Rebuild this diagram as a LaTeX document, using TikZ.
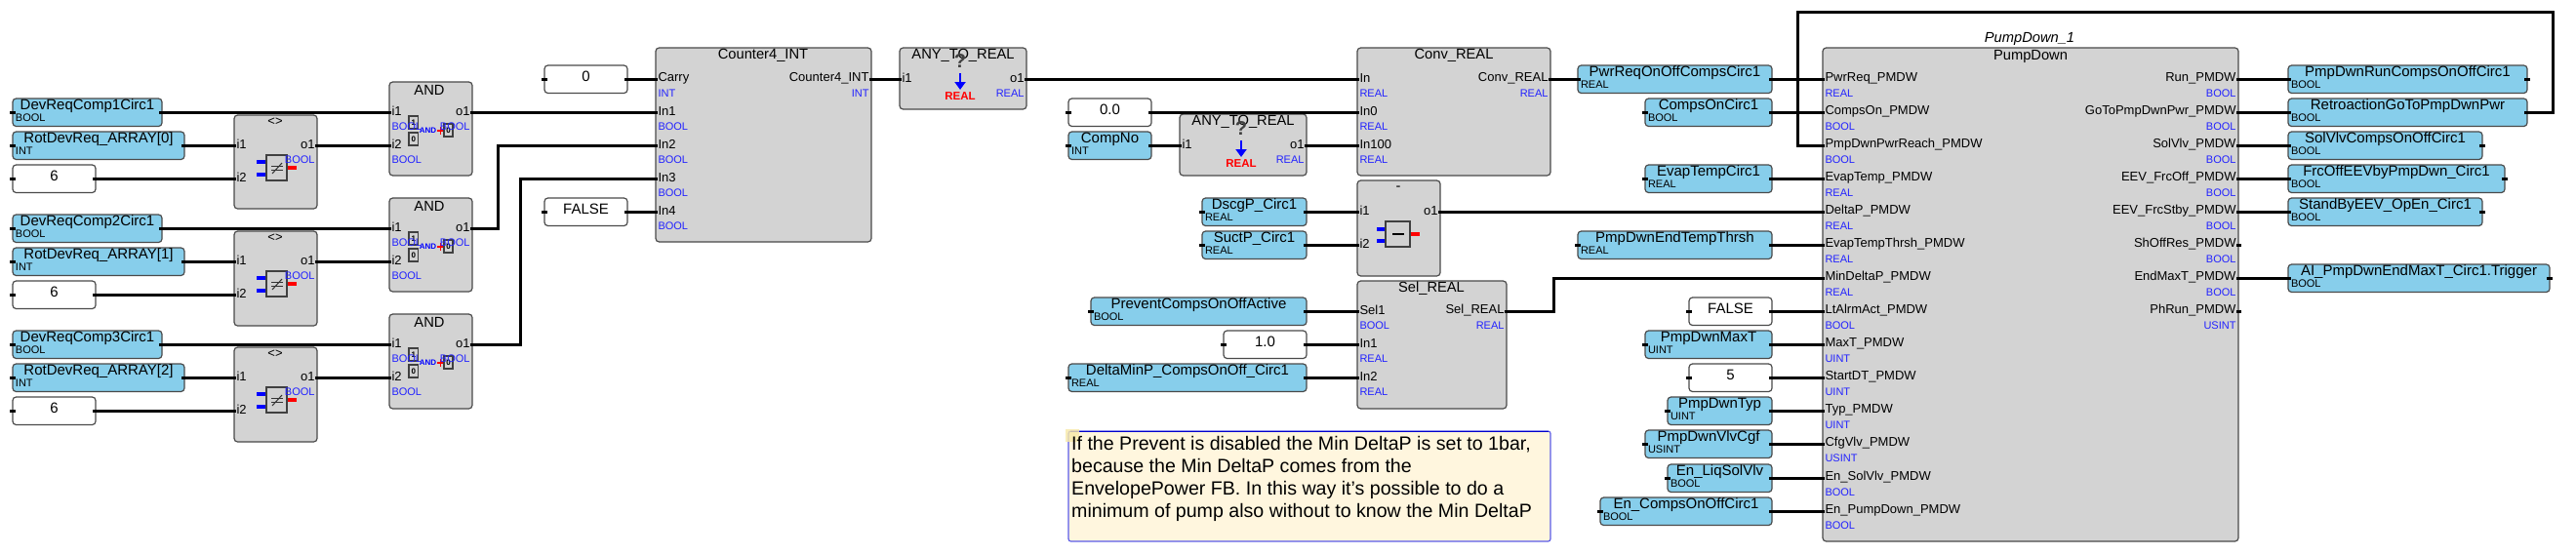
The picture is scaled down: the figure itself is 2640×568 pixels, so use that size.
\documentclass[tikz,border=0pt]{standalone}
\usepackage{fontspec}
\setmainfont{Liberation Sans}
\usetikzlibrary{arrows.meta}
\definecolor{varfill}{HTML}{87CEEB}
\definecolor{blockfill}{HTML}{D3D3D3}
\definecolor{edgegray}{HTML}{4A4A4A}
\definecolor{typeblue}{HTML}{2222FF}
\definecolor{notefill}{HTML}{FFF6DE}
\definecolor{noteedge}{HTML}{5C5CE8}
\definecolor{tagyellow}{HTML}{F7E9A8}
\newcommand{\fs}[1]{\fontsize{#1}{#1}\selectfont}
\tikzset{
  boxbase/.style={draw=edgegray,line width=1.2pt,rounded corners=3.5pt},
  wire/.style={draw=black,line width=3pt},
  stub/.style={draw=black,line width=3pt},
  lbl/.style={inner sep=0pt,outer sep=0pt,text=black,font=\fs{15}},
  typelbl/.style={inner sep=0pt,outer sep=0pt,text=black,font=\fs{11}},
  pintxt/.style={inner sep=0pt,outer sep=0pt,text=black,font=\fs{13}},
  pintype/.style={inner sep=0pt,outer sep=0pt,text=typeblue,font=\fs{11}},
  ttl/.style={inner sep=0pt,outer sep=0pt,text=black,font=\fs{14.7}},
  iconbox/.style={draw=black!75,fill=black!18,line width=1.2pt},
}
% \varbox{name}{x0}{x1}{wire y}{text}{type}
\newcommand{\varbox}[6]{%
  \fill[boxbase,fill=varfill] (#2,#4-14) rectangle (#3,#4+14.5);
  \coordinate (#1-l) at (#2,#4);
  \coordinate (#1-r) at (#3,#4);
  \node[lbl] at ({(#2+#3)/2},#4-6.5) {#5};
  \node[typelbl,anchor=west] at (#2+3,#4+5.5) {#6};
  \draw[stub] (#2-3,#4) -- (#2+3,#4);
  \draw[stub] (#3-3,#4) -- (#3+3,#4);
}
\newcommand{\constbox}[5]{%
  \fill[boxbase,fill=white] (#2,#4-14) rectangle (#3,#4+14.5);
  \coordinate (#1-l) at (#2,#4);
  \coordinate (#1-r) at (#3,#4);
  \node[lbl] at ({(#2+#3)/2},#4-2.5) {#5};
  \draw[stub] (#2-3,#4) -- (#2+3,#4);
  \draw[stub] (#3-3,#4) -- (#3+3,#4);
}
\newcommand{\blockbox}[5]{% name x0 y0 x1 y1
  \fill[boxbase,fill=blockfill] (#2,#3) rectangle (#4,#5);
  \coordinate (#1-w) at (#2,#3);
  \coordinate (#1-e) at (#4,#3);
}
\newcommand{\pinin}[5]{%
  \coordinate (#1) at (#2,#3);
  \node[pintxt,anchor=west] at (#2+2.5,#3-1) {#4};
  \node[pintype,anchor=west] at (#2+2.5,#3+15) {#5};
  \draw[stub] (#2-3,#3) -- (#2+2,#3);
}
\newcommand{\pinout}[5]{%
  \coordinate (#1) at (#2,#3);
  \node[pintxt,anchor=east] at (#2-2.5,#3-1) {#4};
  \node[pintype,anchor=east] at (#2-2.5,#3+15) {#5};
  \draw[stub] (#2-2,#3) -- (#2+3,#3);
}
\newcommand{\neicon}[2]{% square left x, top y
  \draw[blue,line width=3.6pt] (#1-10,#2+7) -- (#1,#2+7);
  \draw[blue,line width=3.6pt] (#1-10,#2+20) -- (#1,#2+20);
  \draw[red,line width=3.6pt] (#1+21,#2+13) -- (#1+31,#2+13);
  \fill[iconbox] (#1,#2) rectangle (#1+21,#2+26);
  \draw[black!80,line width=1pt] (#1+5,#2+11.5) -- (#1+17,#2+11.5);
  \draw[black!80,line width=1pt] (#1+5,#2+15.5) -- (#1+17,#2+15.5);
  \draw[black!80,line width=1pt] (#1+6,#2+19) -- (#1+16,#2+8);
}
\newcommand{\andicon}[2]{% x of left box, y of top
  \fill[iconbox] (#1,#2) rectangle (#1+9.5,#2+13);
  \fill[iconbox] (#1,#2+17) rectangle (#1+9.5,#2+30);
  \node[inner sep=0pt,font=\fs{8}\bfseries] at (#1+4.8,#2+6.5) {1};
  \node[inner sep=0pt,font=\fs{8}\bfseries] at (#1+4.8,#2+23.5) {0};
  \node[inner sep=0pt,text=blue,font=\fs{8}\bfseries] at (#1+19.5,#2+15) {AND};
  \draw[red,line width=2pt] (#1+29,#2+15) -- (#1+36,#2+15);
  \draw[red,line width=1.5pt] (#1+32.5,#2+11) -- (#1+32.5,#2+19);
  \fill[iconbox] (#1+36,#2+8) rectangle (#1+45,#2+21);
  \node[inner sep=0pt,font=\fs{8}\bfseries] at (#1+40.5,#2+14.5) {0};
}
\newcommand{\convicon}[2]{% center x, y of ?
  \node[inner sep=0pt,text=black!75,font=\fs{20}\bfseries] at (#1,#2) {?};
  \draw[blue,line width=2pt,-{Triangle[length=8pt,width=11pt]}] (#1,#2+12) -- (#1,#2+29);
  \node[inner sep=0pt,text=red,font=\fs{11.5}\bfseries] at (#1,#2+36) {REAL};
}
\begin{document}
\begin{tikzpicture}[x=1pt,y=-1pt]
\useasboundingbox (0,0) rectangle (2640,568);
\fill[white] (0,0) rectangle (2640,568);

%%%% variables and constants, left group
\varbox{d1}{13}{166}{115}{DevReqComp1Circ1}{BOOL}
\varbox{r1}{13}{189}{149}{RotDevReq\_ARRAY[0]}{INT}
\constbox{c1}{13}{98}{183}{6}
\varbox{d2}{13}{166}{234}{DevReqComp2Circ1}{BOOL}
\varbox{r2}{13}{189}{268}{RotDevReq\_ARRAY[1]}{INT}
\constbox{c2}{13}{98}{302}{6}
\varbox{d3}{13}{166}{353}{DevReqComp3Circ1}{BOOL}
\varbox{r3}{13}{189}{387}{RotDevReq\_ARRAY[2]}{INT}
\constbox{c3}{13}{98}{421}{6}

%%%% <> blocks
\blockbox{ne1}{240}{118}{325}{214}
\blockbox{ne2}{240}{237}{325}{334}
\blockbox{ne3}{240}{356}{325}{453}
\foreach \t/\n in {118/1,237/2,356/3}{
  \node[ttl,font=\fs{13}] at (282,\t+7) {<>};
  \neicon{273}{\t+41}
}
\pinin{ne1i1}{240}{149}{i1}{}
\pinin{ne1i2}{240}{183}{i2}{}
\pinout{ne1o}{325}{149}{o1}{BOOL}
\pinin{ne2i1}{240}{268}{i1}{}
\pinin{ne2i2}{240}{302}{i2}{}
\pinout{ne2o}{325}{268}{o1}{BOOL}
\pinin{ne3i1}{240}{387}{i1}{}
\pinin{ne3i2}{240}{421}{i2}{}
\pinout{ne3o}{325}{387}{o1}{BOOL}

%%%% AND blocks
\blockbox{an1}{399}{84}{484}{180}
\blockbox{an2}{399}{203}{484}{299}
\blockbox{an3}{399}{322}{484}{419}
\foreach \t in {84,203,322}{
  \node[ttl] at (440,\t+8) {AND};
  \andicon{419}{\t+35}
}
\pinin{an1i1}{399}{115}{i1}{BOOL}
\pinin{an1i2}{399}{149}{i2}{BOOL}
\pinout{an1o}{484}{115}{o1}{BOOL}
\pinin{an2i1}{399}{234}{i1}{BOOL}
\pinin{an2i2}{399}{268}{i2}{BOOL}
\pinout{an2o}{484}{234}{o1}{BOOL}
\pinin{an3i1}{399}{353}{i1}{BOOL}
\pinin{an3i2}{399}{387}{i2}{BOOL}
\pinout{an3o}{484}{353}{o1}{BOOL}

%%%% Counter
\blockbox{cn}{672}{49}{893}{248}
\node[ttl] at (782,57) {Counter4\_INT};
\constbox{c0}{558}{643}{81}{0}
\constbox{cf}{558}{643}{217}{FALSE}
\pinin{cnc}{672}{81}{Carry}{INT}
\pinin{cn1}{672}{115}{In1}{BOOL}
\pinin{cn2}{672}{149}{In2}{BOOL}
\pinin{cn3}{672}{183}{In3}{BOOL}
\pinin{cn4}{672}{217}{In4}{BOOL}
\pinout{cno}{893}{81}{Counter4\_INT}{INT}

%%%% ANY_TO_REAL 1
\blockbox{at1}{922}{49}{1052}{112}
\node[ttl] at (987,57) {ANY\_TO\_REAL};
\convicon{984}{63}
\pinin{at1i}{922}{81}{i1}{}
\pinout{at1o}{1052}{81}{o1}{REAL}

%%%% Conv_REAL
\blockbox{cv}{1391}{49}{1589}{180}
\node[ttl] at (1490,57) {Conv\_REAL};
\constbox{c00}{1095}{1180}{115}{0.0}
\varbox{cno2}{1095}{1180}{149}{CompNo}{INT}
\blockbox{at2}{1209}{117}{1339}{180}
\node[ttl] at (1274,125) {ANY\_TO\_REAL};
\convicon{1272}{132}
\pinin{at2i}{1209}{149}{i1}{}
\pinout{at2o}{1339}{149}{o1}{REAL}
\pinin{cvi}{1391}{81}{In}{REAL}
\pinin{cvi0}{1391}{115}{In0}{REAL}
\pinin{cvi1}{1391}{149}{In100}{REAL}
\pinout{cvo}{1589}{81}{Conv\_REAL}{REAL}

%%%% minus block
\varbox{ds}{1232}{1339}{217}{DscgP\_Circ1}{REAL}
\varbox{su}{1232}{1339}{251}{SuctP\_Circ1}{REAL}
\blockbox{mn}{1391}{185}{1476}{283}
\node[ttl] at (1433,193) {-};
\pinin{mni1}{1391}{217}{i1}{}
\pinin{mni2}{1391}{251}{i2}{}
\pinout{mno}{1476}{217}{o1}{}
\draw[blue,line width=3.6pt] (1411,235) -- (1420,235);
\draw[blue,line width=3.6pt] (1411,247) -- (1420,247);
\draw[red,line width=3.6pt] (1445,240) -- (1455,240);
\fill[iconbox] (1420,227) rectangle (1445,253);
\draw[black,line width=2.2pt] (1427,240) -- (1439,240);

%%%% Sel_REAL
\blockbox{sl}{1391}{288}{1544}{419}
\node[ttl] at (1467,296) {Sel\_REAL};
\varbox{pv}{1118}{1339}{319}{PreventCompsOnOffActive}{BOOL}
\constbox{c10}{1254}{1339}{353}{1.0}
\varbox{dm}{1095}{1339}{387}{DeltaMinP\_CompsOnOff\_Circ1}{REAL}
\pinin{sls}{1391}{319}{Sel1}{BOOL}
\pinin{sl1}{1391}{353}{In1}{REAL}
\pinin{sl2}{1391}{387}{In2}{REAL}
\pinout{slo}{1544}{319}{Sel\_REAL}{REAL}

%%%% Note
\path[fill=notefill,draw=noteedge,line width=1.2pt,rounded corners=2.5pt] (1095,442) rectangle (1589,555);
\draw[draw=blue!80!black,line width=1pt] (1097,442) -- (1587,442);
\fill[tagyellow,opacity=.8] (1092,440) rectangle (1106,453);
\node[inner sep=0pt,anchor=north west,align=left,font=\fontsize{19.6}{23}\selectfont] (note) at (1098,447) {If the Prevent is disabled the Min DeltaP is set to 1bar,\\because the Min DeltaP comes from the\\EnvelopePower FB. In this way it's possible to do a\\minimum of pump also without to know the Min DeltaP};

%%%% PumpDown
\blockbox{pd}{1868}{49}{2294}{555}
\node[ttl,font=\fs{14.7}\itshape] at (2080,40) {PumpDown\_1};
\node[ttl] at (2081,58) {PumpDown};
\pinin{pi1}{1868}{81}{PwrReq\_PMDW}{REAL}
\pinin{pi2}{1868}{115}{CompsOn\_PMDW}{BOOL}
\pinin{pi3}{1868}{149}{PmpDwnPwrReach\_PMDW}{BOOL}
\pinin{pi4}{1868}{183}{EvapTemp\_PMDW}{REAL}
\pinin{pi5}{1868}{217}{DeltaP\_PMDW}{REAL}
\pinin{pi6}{1868}{251}{EvapTempThrsh\_PMDW}{REAL}
\pinin{pi7}{1868}{285}{MinDeltaP\_PMDW}{REAL}
\pinin{pi8}{1868}{319}{LtAlrmAct\_PMDW}{BOOL}
\pinin{pi9}{1868}{353}{MaxT\_PMDW}{UINT}
\pinin{pi10}{1868}{387}{StartDT\_PMDW}{UINT}
\pinin{pi11}{1868}{421}{Typ\_PMDW}{UINT}
\pinin{pi12}{1868}{455}{CfgVlv\_PMDW}{USINT}
\pinin{pi13}{1868}{490}{En\_SolVlv\_PMDW}{BOOL}
\pinin{pi14}{1868}{524}{En\_PumpDown\_PMDW}{BOOL}
\pinout{po1}{2294}{81}{Run\_PMDW}{BOOL}
\pinout{po2}{2294}{115}{GoToPmpDwnPwr\_PMDW}{BOOL}
\pinout{po3}{2294}{149}{SolVlv\_PMDW}{BOOL}
\pinout{po4}{2294}{183}{EEV\_FrcOff\_PMDW}{BOOL}
\pinout{po5}{2294}{217}{EEV\_FrcStby\_PMDW}{BOOL}
\pinout{po6}{2294}{251}{ShOffRes\_PMDW}{BOOL}
\pinout{po7}{2294}{285}{EndMaxT\_PMDW}{BOOL}
\pinout{po8}{2294}{319}{PhRun\_PMDW}{USINT}

%%%% PumpDown left variables
\varbox{v1}{1617}{1816}{81}{PwrReqOnOffCompsCirc1}{REAL}
\varbox{v2}{1686}{1816}{115}{CompsOnCirc1}{BOOL}
\varbox{v4}{1686}{1816}{183}{EvapTempCirc1}{REAL}
\varbox{v6}{1617}{1816}{251}{PmpDwnEndTempThrsh}{REAL}
\constbox{v8}{1731}{1816}{319}{FALSE}
\varbox{v9}{1686}{1816}{353}{PmpDwnMaxT}{UINT}
\constbox{v10}{1731}{1816}{387}{5}
\varbox{v11}{1709}{1816}{421}{PmpDwnTyp}{UINT}
\varbox{v12}{1686}{1816}{455}{PmpDwnVlvCgf}{USINT}
\varbox{v13}{1709}{1816}{490}{En\_LiqSolVlv}{BOOL}
\varbox{v14}{1640}{1816}{524}{En\_CompsOnOffCirc1}{BOOL}

%%%% PumpDown right variables
\varbox{o1}{2345}{2590}{81}{PmpDwnRunCompsOnOffCirc1}{BOOL}
\varbox{o2}{2345}{2590}{115}{RetroactionGoToPmpDwnPwr}{BOOL}
\varbox{o3}{2345}{2544}{149}{SolVlvCompsOnOffCirc1}{BOOL}
\varbox{o4}{2345}{2567}{183}{FrcOffEEVbyPmpDwn\_Circ1}{BOOL}
\varbox{o5}{2345}{2544}{217}{StandByEEV\_OpEn\_Circ1}{BOOL}
\varbox{o7}{2345}{2613}{285}{AI\_PmpDwnEndMaxT\_Circ1.Trigger}{BOOL}

%%%% connectors
\begin{scope}[every path/.style={wire}]
\draw (d1-r) -- (an1i1);
\draw (r1-r) -- (ne1i1);
\draw (c1-r) -- (ne1i2);
\draw (ne1o) -- (an1i2);
\draw (d2-r) -- (an2i1);
\draw (r2-r) -- (ne2i1);
\draw (c2-r) -- (ne2i2);
\draw (ne2o) -- (an2i2);
\draw (d3-r) -- (an3i1);
\draw (r3-r) -- (ne3i1);
\draw (c3-r) -- (ne3i2);
\draw (ne3o) -- (an3i2);
\draw (an1o) -- (cn1);
\coordinate (k2) at (510,234);
\draw[line join=miter] (an2o) -- (k2) |- (cn2);
\coordinate (k3) at (533,353);
\draw[line join=miter] (an3o) -- (k3) |- (cn3);
\draw (c0-r) -- (cnc);
\draw (cf-r) -- (cn4);
\draw (cno) -- (at1i);
\draw (at1o) -- (cvi);
\draw (c00-r) -- (cvi0);
\draw (cno2-r) -- (at2i);
\draw (at2o) -- (cvi1);
\draw (cvo) -- (v1-l);
\draw (ds-r) -- (mni1);
\draw (su-r) -- (mni2);
\draw (pv-r) -- (sls);
\draw (c10-r) -- (sl1);
\draw (dm-r) -- (sl2);
\draw (mno) -- (pi5);
\coordinate (k7) at (1592,319);
\draw[line join=miter] (slo) -- (k7) |- (pi7);
\draw (v1-r) -- (pi1);
\draw (v2-r) -- (pi2);
\draw (v4-r) -- (pi4);
\draw (v6-r) -- (pi6);
\draw (v8-r) -- (pi8);
\draw (v9-r) -- (pi9);
\draw (v10-r) -- (pi10);
\draw (v11-r) -- (pi11);
\draw (v12-r) -- (pi12);
\draw (v13-r) -- (pi13);
\draw (v14-r) -- (pi14);
\draw (po1) -- (o1-l);
\draw (po2) -- (o2-l);
\draw (po3) -- (o3-l);
\draw (po4) -- (o4-l);
\draw (po5) -- (o5-l);
\draw (po7) -- (o7-l);
\coordinate (fb1) at (2616,115);
\coordinate (fb2) at (2616,12);
\coordinate (fb3) at (1842,12);
\coordinate (fb4) at (1842,149);
\draw[line join=miter] (o2-r) -- (fb1) -- (fb2) -- (fb3) -- (fb4) -- (pi3);
\end{scope}
\end{tikzpicture}
\end{document}
